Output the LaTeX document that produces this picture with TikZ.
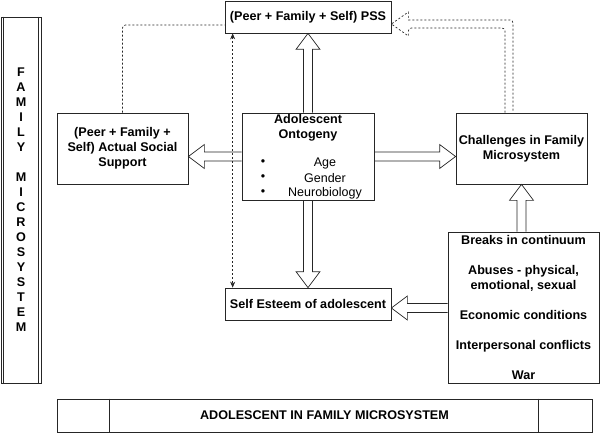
\documentclass[tikz,border=0pt]{standalone}
\usepackage{fontspec}
\setmainfont{Liberation Sans}
\usetikzlibrary{calc,arrows.meta}
\newcommand\blockarrow[2]{%
  \coordinate (ba-h) at ($(#2)!16pt!(#1)$);
  \draw[blk] ($(#1)!4.5pt!90:(#2)$) -- ($(ba-h)!4.5pt!90:(#2)$) -- ($(ba-h)!12pt!90:(#2)$) -- (#2)
    -- ($(ba-h)!12pt!-90:(#2)$) -- ($(ba-h)!4.5pt!-90:(#2)$) -- ($(#1)!4.5pt!-90:(#2)$);
}
\begin{document}
\begin{tikzpicture}[x=1pt,y=-1pt,
  lc/.style={draw=black!85, line width=0.7pt},
  box/.style={lc, inner sep=0pt, align=center, font=\bfseries\fontsize{12.6}{15}\selectfont},
  txt/.style={inner sep=0pt, align=center, font=\bfseries\fontsize{12.6}{15}\selectfont},
  reg/.style={inner sep=0pt, font=\fontsize{12.5}{15}\selectfont},
  blk/.style={lc},
  dotln/.style={lc, dash pattern=on 2pt off 2pt},
  tips/.style={{Stealth[length=6pt,width=5pt]}-{Stealth[length=6pt,width=5pt]}}
]
\useasboundingbox (0,0) rectangle (601,433);

% side box
\node[box, minimum width=40pt, minimum height=366pt] (fam) at (21,200)
  {F\\A\\M\\I\\L\\Y\\~\\M\\I\\C\\R\\O\\S\\Y\\S\\T\\E\\M};
\draw[lc] ([xshift=3pt]fam.north west) -- ([xshift=3pt]fam.south west);
\draw[lc] ([xshift=-3pt]fam.north east) -- ([xshift=-3pt]fam.south east);

% main boxes
\node[box, minimum width=166pt, minimum height=32pt] (pss) at (308,17) {(Peer + Family + Self) PSS};
\node[box, minimum width=131pt, minimum height=71pt] (sup) at (122.5,148.5) {(Peer + Family +\\Self) Actual Social\\Support};
\node[box, minimum width=132pt, minimum height=87pt] (onto) at (308,156.5) {};
\node[txt] (ontoT) at (308,127.5) {Adolescent\\Ontogeny};
\node[reg] (bu1) at (263,163) {\textbullet};
\node[reg] (bu2) at (263,178) {\textbullet};
\node[reg] (bu3) at (263,193) {\textbullet};
\node[reg] (it1) at (325,163) {Age};
\node[reg] (it2) at (325,178) {Gender};
\node[reg] (it3) at (325,193) {Neurobiology};
\node[box, minimum width=131pt, minimum height=71pt] (chal) at (521.5,148.5) {Challenges in Family\\Microsystem};
\node[box, minimum width=151pt, minimum height=151pt] (brk) at (523.5,307.5)
  {Breaks in continuum\\[15pt]Abuses - physical,\\emotional, sexual\\[15pt]Economic conditions\\[15pt]Interpersonal conflicts\\[15pt]War};
\node[box, minimum width=166pt, minimum height=32pt] (self) at (308,304) {Self Esteem of adolescent};

% bottom bar
\node[box, minimum width=535pt, minimum height=33pt] (bot) at (324.5,415.5) {ADOLESCENT IN FAMILY MICROSYSTEM};
\draw[lc] ([xshift=53pt]bot.north west) -- ([xshift=53pt]bot.south west);
\draw[lc] ([xshift=-54pt]bot.north east) -- ([xshift=-54pt]bot.south east);

% block arrows
\blockarrow{onto.north}{pss.south}
\blockarrow{onto.south}{self.north}
\coordinate (t3) at (onto.west -| sup.east);
\blockarrow{onto.west}{t3}
\coordinate (t4) at (onto.east -| chal.west);
\blockarrow{onto.east}{t4}
\coordinate (s5) at (brk.north -| chal.south);
\blockarrow{s5}{chal.south}
\coordinate (t6) at ([yshift=-4pt]self.east);
\coordinate (s6) at (brk.west |- t6);
\blockarrow{s6}{t6}

% dotted connectors
\draw[dotln, rounded corners=3pt] (sup.north) |- ([yshift=-8pt]pss.west);
\draw[dotln, tips] ([xshift=8pt]pss.south west) -- ([xshift=8pt]self.north west);
\coordinate (dA) at ([xshift=-12.5pt]chal.north);
\coordinate (dT) at ([yshift=-7pt]pss.east);
\draw[dotln] [rounded corners=3pt] ($(dA)+(-4,0)$) |- ($(dT)+(17,4)$) [sharp corners] -- ($(dT)+(17,12)$) -- (dT)
  -- ($(dT)+(17,-12)$) -- ($(dT)+(17,-4)$) [rounded corners=3pt] -| ($(dA)+(4,0)$);
\end{tikzpicture}
\end{document}
